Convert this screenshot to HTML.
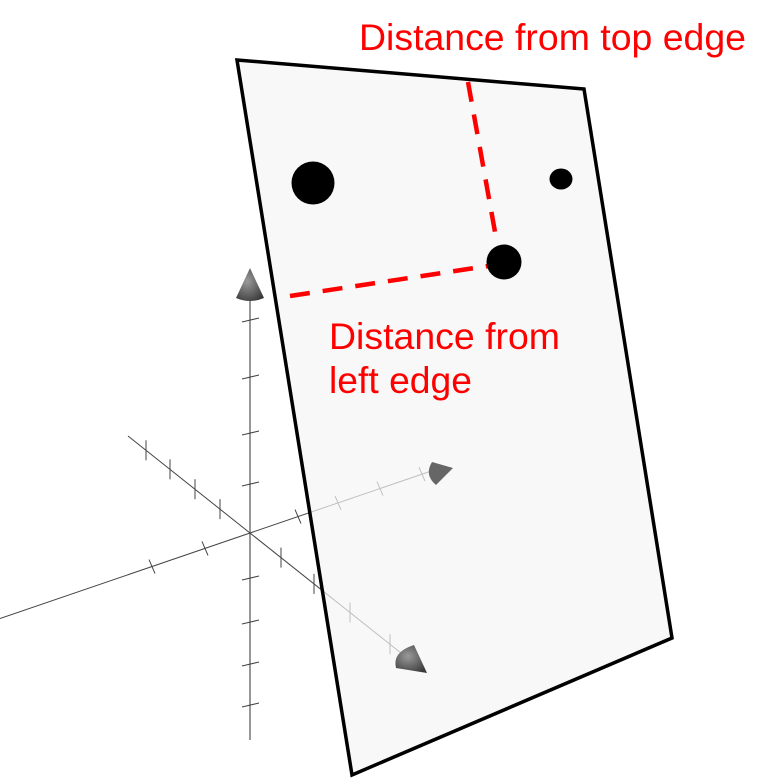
<!DOCTYPE html>
<html><head><meta charset="utf-8"><style>html,body{margin:0;padding:0;background:#fff}svg{display:block}</style></head>
<body>
<svg id="c" width="779" height="779" viewBox="0 0 779 779" xmlns="http://www.w3.org/2000/svg">
<defs>
<radialGradient id="cg" cx="0.4" cy="0.4" r="0.7"><stop offset="0" stop-color="#9a9a9a"/><stop offset="1" stop-color="#3a3a3a"/></radialGradient>
</defs>
<g id="axes"></g>
<polygon points="237,60 584,89 672,638 352,775" fill="#f5f5f5" fill-opacity="0.7" stroke="#000" stroke-width="3.5" stroke-linejoin="miter"/>
<g id="marks"></g>
<text x="359" y="50" font-family="Liberation Sans, sans-serif" font-size="37" fill="#ff0000" textLength="387" lengthAdjust="spacingAndGlyphs">Distance from top edge</text>
<text x="329" y="349" font-family="Liberation Sans, sans-serif" font-size="37" fill="#ff0000" textLength="231" lengthAdjust="spacingAndGlyphs">Distance from</text>
<text x="329" y="393" font-family="Liberation Sans, sans-serif" font-size="37" fill="#ff0000" textLength="143" lengthAdjust="spacingAndGlyphs">left edge</text>
</svg>
<script>
const NS='http://www.w3.org/2000/svg';
// dots on plane: [x, y, rx, ry]
const dotX=[313,561,504];
const dotY=[183,179,262];
const dotRx=[21.5,11.5,17.5];
const dotRy=[21.5,10.5,17.5];
// axes
const origin=[250,533];
const vTicksY=[320,377,433,484,578,622,664,705];
const rTicksX=[152,205,298,338,380,422];
const dTicksX=[146,170,195,220,281,314,350,390];
function mk(tag,attrs,parent){const e=document.createElementNS(NS,tag);for(const k in attrs)e.setAttribute(k,attrs[k]);parent.appendChild(e);return e;}
const ax=document.getElementById('axes');
const mg=document.getElementById('marks');
let l=mk('line',{x1:250,y1:298,x2:250,y2:740,stroke:'#777','stroke-width':1.5},ax);


vTicksY.forEach(y=>{const t=mk('line',{x1:242,y1:y+2,x2:259,y2:y-2,stroke:'#444','stroke-width':1},ax);

});
const rs=(533-468)/(440-250);
function ry(x){return origin[1]-(x-origin[0])*rs;}
l=mk('line',{x1:0,y1:ry(0),x2:440,y2:ry(440),stroke:'#444','stroke-width':1},ax);


rTicksX.forEach(x=>{const t=mk('line',{x1:x-3,y1:ry(x)-7,x2:x+3,y2:ry(x)+7,stroke:'#444','stroke-width':1},ax);

});
const ds=(533-436)/(250-128);
function dy(x){return origin[1]+(x-origin[0])*ds;}
l=mk('line',{x1:128,y1:dy(128),x2:405,y2:dy(405),stroke:'#444','stroke-width':1},ax);


dTicksX.forEach(x=>{const t=mk('line',{x1:x,y1:dy(x)-10,x2:x,y2:dy(x)+10,stroke:'#444','stroke-width':1},ax);

});
let c=mk('path',{d:'M250,268 L236,298 Q250,304 264,298 Z',fill:'url(#cg)'},mg);


c=mk('path',{d:'M453,468 L432,462 Q424,475 436,485 Z',fill:'#666'},mg);


c=mk('path',{d:'M427,673 L414,645 Q392,652 396,668 Z',fill:'url(#cg)'},mg);


l=mk('line',{x1:468,y1:82,x2:497,y2:243,stroke:'#ff0000','stroke-width':4.5,'stroke-dasharray':'20 13'},mg);


l=mk('line',{x1:290,y1:296,x2:488,y2:266,stroke:'#ff0000','stroke-width':4.5,'stroke-dasharray':'20 13'},mg);


dotX.forEach((x,i)=>{const d=mk('ellipse',{cx:x,cy:dotY[i],rx:dotRx[i],ry:dotRy[i],fill:'#000'},mg);

});
</script>
</body></html>
